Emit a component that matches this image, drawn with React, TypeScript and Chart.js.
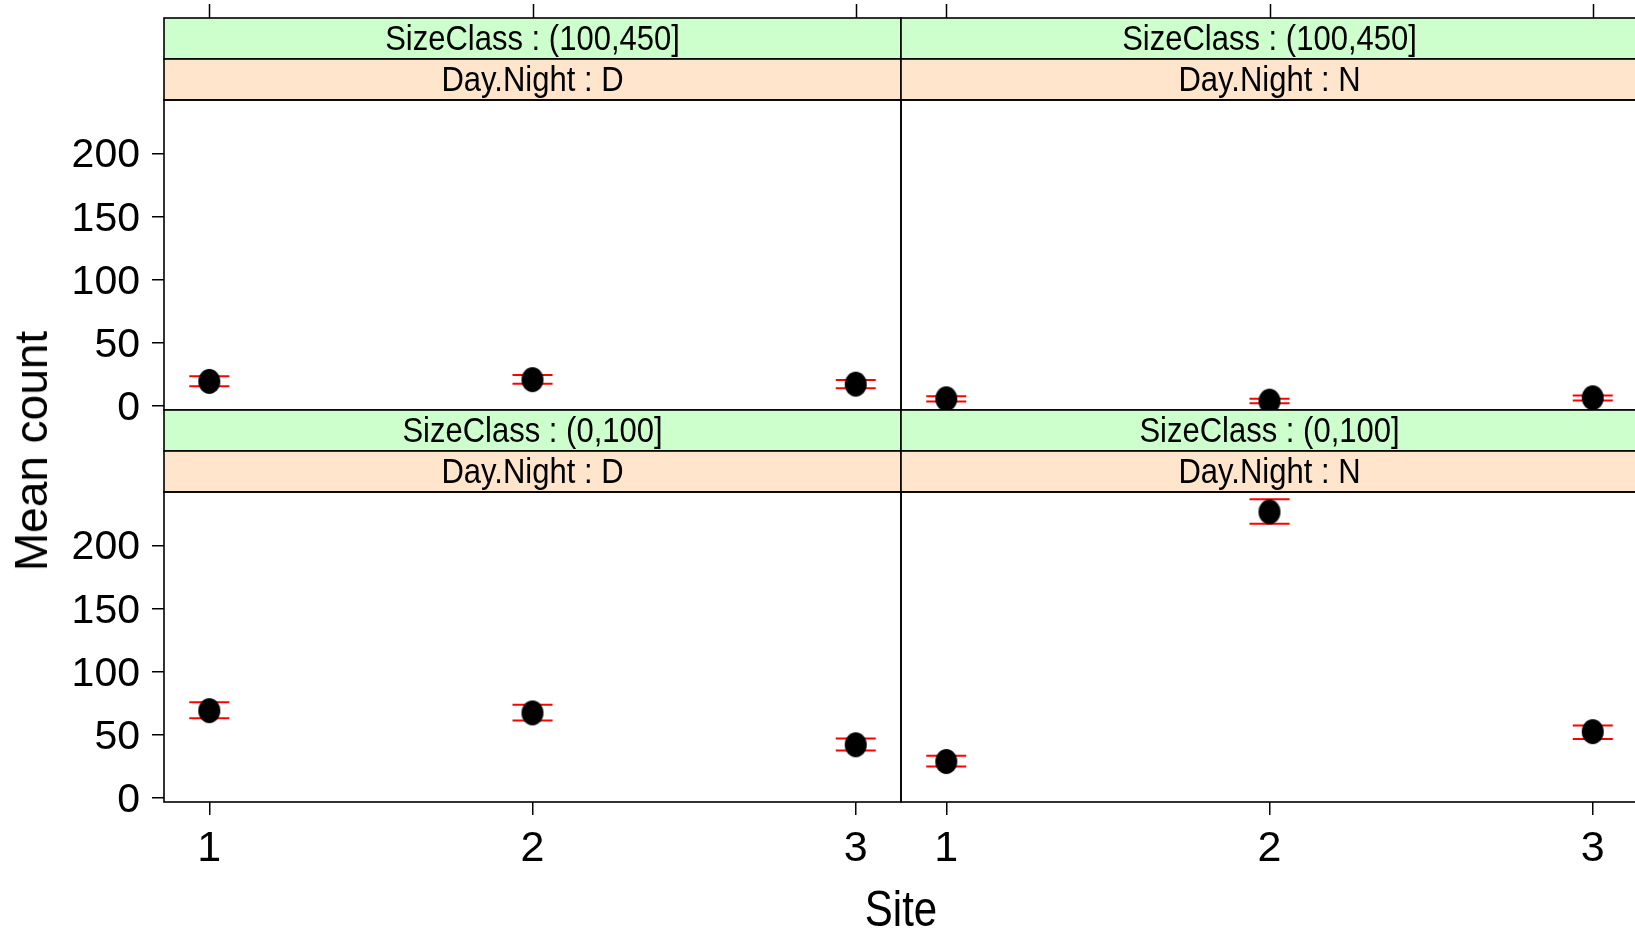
import React, { useEffect, useRef } from "react";
import { Chart, registerables } from "chart.js";

Chart.register(...registerables);

// ---------------- data ----------------
const sites = [1, 2, 3];
const siteTickLabels = ["1", "2", "3"];
const yTickValues = [0, 50, 100, 150, 200];

const sizeClassLabels = ["SizeClass : (100,450]", "SizeClass : (0,100]"];
const dayNightLabels = ["Day.Night : D", "Day.Night : N"];

// SizeClass (100,450], Day
const largeDayMean = [19.7, 21.1, 17.5];
const largeDayLower = [15.9, 17.9, 14.2];
const largeDayUpper = [23.7, 24.7, 20.8];
// SizeClass (100,450], Night
const largeNightMean = [5.9, 4.0, 6.7];
const largeNightLower = [3.7, 2.4, 4.5];
const largeNightUpper = [8.0, 5.9, 8.5];
// SizeClass (0,100], Day
const smallDayMean = [69.5, 67.7, 42.4];
const smallDayLower = [63.4, 61.6, 37.9];
const smallDayUpper = [76.2, 74.1, 47.4];
// SizeClass (0,100], Night
const smallNightMean = [29.1, 227.2, 52.8];
const smallNightLower = [25.1, 217.9, 47.0];
const smallNightUpper = [33.7, 237.2, 57.8];

const xAxisTitle = "Site";
const yAxisTitle = "Mean count";

// ---------------- layout ----------------
const CANVAS_W = 1640;
const CANVAS_H = 932;
const COL_LEFT = [164, 901];
const COL_RIGHT = [901, 1638];
const ROW_TOP = [100, 492];
const ROW_BOTTOM = [410, 802];
const STRIP_H = 41;
const FONT = "'Liberation Sans', Arial, Helvetica, sans-serif";

const panels = [
  { row: 0, col: 0, outer: sizeClassLabels[0], inner: dayNightLabels[0], mean: largeDayMean, lower: largeDayLower, upper: largeDayUpper },
  { row: 0, col: 1, outer: sizeClassLabels[0], inner: dayNightLabels[1], mean: largeNightMean, lower: largeNightLower, upper: largeNightUpper },
  { row: 1, col: 0, outer: sizeClassLabels[1], inner: dayNightLabels[0], mean: smallDayMean, lower: smallDayLower, upper: smallDayUpper },
  { row: 1, col: 1, outer: sizeClassLabels[1], inner: dayNightLabels[1], mean: smallNightMean, lower: smallNightLower, upper: smallNightUpper },
];

function makeEllipse(): HTMLCanvasElement {
  const c = document.createElement("canvas");
  c.width = 24;
  c.height = 27;
  const g = c.getContext("2d")!;
  g.fillStyle = "#000";
  g.beginPath();
  g.ellipse(12, 13.5, 11, 12.5, 0, 0, Math.PI * 2);
  g.fill();
  return c;
}

const stripPlugin = {
  id: "latticeStrip",
  afterDraw(chart: any, _args: any, opts: any) {
    const { ctx, chartArea: a } = chart;
    const w = a.right - a.left;
    ctx.save();
    const strips = [
      { label: opts.outer, color: "#CCFFCC", y: a.top - 2 * STRIP_H },
      { label: opts.inner, color: "#FFE5CC", y: a.top - STRIP_H },
    ];
    ctx.lineWidth = 1.6;
    ctx.strokeStyle = "#000";
    for (const s of strips) {
      ctx.fillStyle = s.color;
      ctx.fillRect(a.left, s.y, w, STRIP_H);
      ctx.strokeRect(a.left, s.y, w, STRIP_H);
      ctx.save();
      ctx.fillStyle = "#000";
      ctx.font = `31px ${FONT}`;
      ctx.textAlign = "center";
      ctx.textBaseline = "middle";
      ctx.translate((a.left + a.right) / 2, s.y + STRIP_H / 2 + 1.5);
      ctx.scale(1, 1.15);
      ctx.fillText(s.label, 0, 0);
      ctx.restore();
    }
    ctx.strokeRect(a.left, a.top, w, a.bottom - a.top);
    if (opts.topTicks) {
      const xs = chart.scales.x;
      const y0 = a.top - 2 * STRIP_H;
      ctx.lineWidth = 1.5;
      ctx.beginPath();
      for (const v of sites) {
        const px = Math.round(xs.getPixelForValue(v)) + 0.5;
        ctx.moveTo(px, y0);
        ctx.lineTo(px, y0 - 14);
      }
      ctx.stroke();
    }
    ctx.restore();
  },
};

function buildConfig(p: any, ellipse: HTMLCanvasElement): any {
  const showY = p.col === 0;
  const showX = p.row === 1;
  return {
    type: "scatter",
    data: {
      datasets: [
        {
          label: "mean",
          data: sites.map((s, i) => ({ x: s, y: p.mean[i] })),
          pointStyle: ellipse,
          pointRadius: 12,
          showLine: false,
          clip: 0,
        },
        {
          label: "upper",
          data: sites.map((s, i) => ({ x: s, y: p.upper[i] })),
          pointStyle: "line",
          pointRadius: 20,
          pointBorderColor: "#FF0000",
          pointBorderWidth: 2,
          showLine: false,
          clip: 0,
        },
        {
          label: "lower",
          data: sites.map((s, i) => ({ x: s, y: p.lower[i] })),
          pointStyle: "line",
          pointRadius: 20,
          pointBorderColor: "#FF0000",
          pointBorderWidth: 2,
          showLine: false,
          clip: 0,
        },
      ],
    },
    options: {
      responsive: false,
      animation: false,
      events: [],
      layout: {
        autoPadding: false,
        padding: {
          left: p.col === 0 ? 0 : COL_LEFT[1],
          right: CANVAS_W - COL_RIGHT[p.col],
          top: ROW_TOP[p.row],
          bottom: showX ? 0 : CANVAS_H - ROW_BOTTOM[p.row],
        },
      },
      plugins: {
        legend: { display: false },
        tooltip: { enabled: false },
        latticeStrip: { outer: p.outer, inner: p.inner, topTicks: p.row === 0 },
      },
      scales: {
        x: {
          type: "linear",
          min: 0.86,
          max: 3.14,
          display: showX,
          afterBuildTicks: (s: any) => {
            s.ticks = sites.map((v) => ({ value: v }));
          },
          afterFit: (s: any) => {
            if (showX) s.height = CANVAS_H - ROW_BOTTOM[1];
          },
          grid: { display: true, drawOnChartArea: false, drawTicks: true, tickLength: 13, color: "#000", lineWidth: 1.5 },
          border: { display: false },
          ticks: {
            color: "#000",
            font: { size: 43, family: FONT },
            padding: 8,
            maxRotation: 0,
            autoSkip: false,
            callback: (_v: any, i: number) => siteTickLabels[i],
          },
        },
        y: {
          type: "linear",
          min: -3,
          max: 243,
          display: showY,
          afterBuildTicks: (s: any) => {
            s.ticks = yTickValues.map((v) => ({ value: v }));
          },
          afterFit: (s: any) => {
            if (showY) s.width = COL_LEFT[0];
          },
          grid: { display: true, drawOnChartArea: false, drawTicks: true, tickLength: 12, color: "#000", lineWidth: 1.5 },
          border: { display: false },
          ticks: {
            color: "#000",
            font: { size: 41, family: FONT },
            padding: 12,
            labelOffset: 2,
            autoSkip: false,
          },
        },
      },
    },
    plugins: [stripPlugin],
  };
}

export default function App() {
  const canvasRefs = useRef<(HTMLCanvasElement | null)[]>([]);

  useEffect(() => {
    const ellipse = makeEllipse();
    const charts = panels.map((p, i) => new Chart(canvasRefs.current[i]!, buildConfig(p, ellipse)));
    return () => charts.forEach((c) => c.destroy());
  }, []);

  return (
    <div
      style={{
        position: "absolute",
        left: 0,
        top: 0,
        width: 1635,
        height: 932,
        overflow: "hidden",
        background: "#fff",
      }}
    >
      {panels.map((_p, i) => (
        <canvas
          key={i}
          ref={(el) => {
            canvasRefs.current[i] = el;
          }}
          width={CANVAS_W}
          height={CANVAS_H}
          style={{ position: "absolute", left: 0, top: 0 }}
        />
      ))}
      <div
        style={{
          position: "absolute",
          left: 31,
          top: 451,
          transform: "translate(-50%, -50%) rotate(-90deg)",
          font: `46px ${FONT}`,
          lineHeight: 1,
          whiteSpace: "nowrap",
          color: "#000",
        }}
      >
        {yAxisTitle}
      </div>
      <div
        style={{
          position: "absolute",
          left: 901,
          top: 909,
          transform: "translate(-50%, -50%) scaleY(1.18)",
          font: `42px ${FONT}`,
          lineHeight: 1,
          whiteSpace: "nowrap",
          color: "#000",
        }}
      >
        {xAxisTitle}
      </div>
    </div>
  );
}
